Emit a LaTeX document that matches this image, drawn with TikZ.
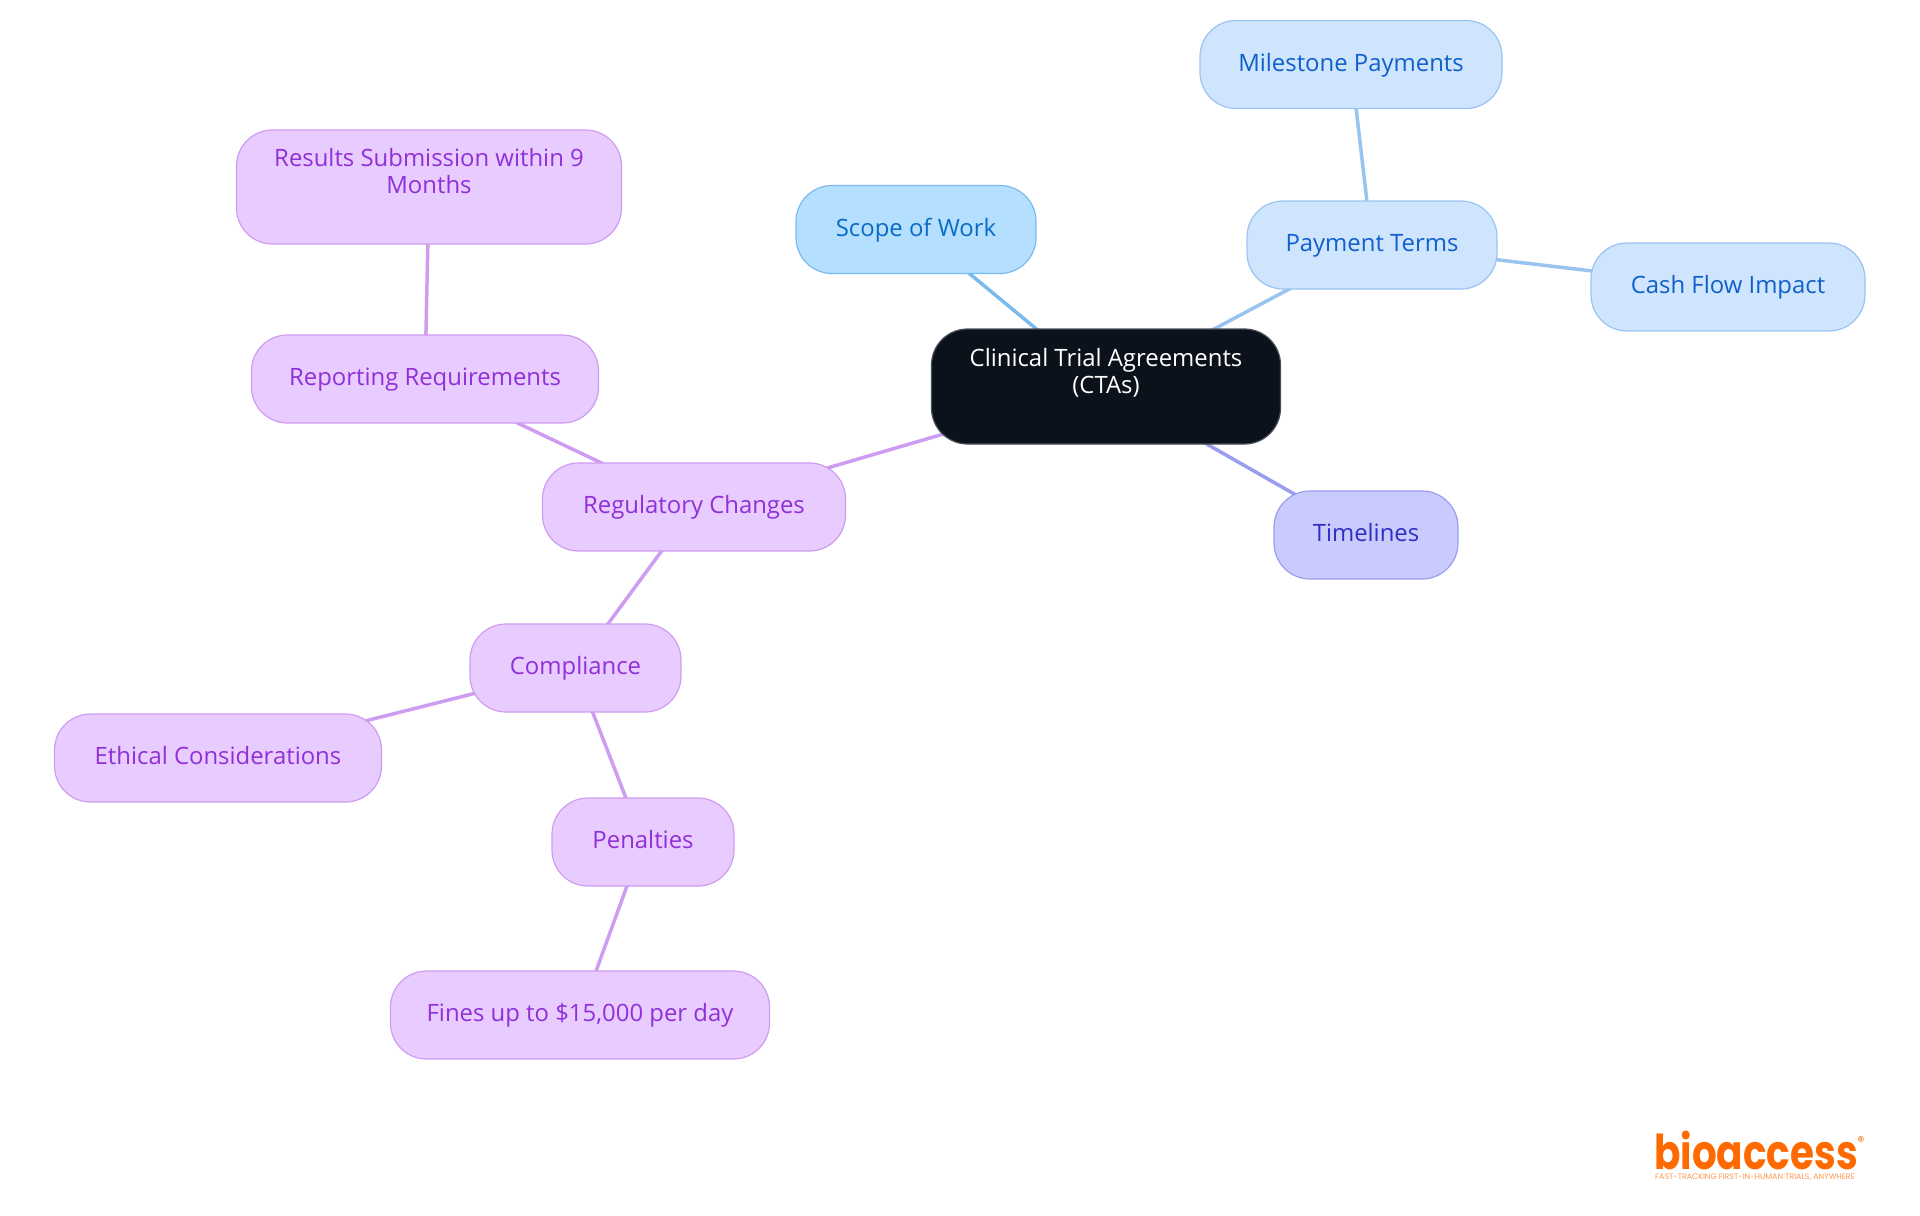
\documentclass[tikz,border=0pt]{standalone}
\usepackage{fontspec}
\setmainfont{Open Sans}
\newfontfamily\logofont{Poppins}
\usetikzlibrary{backgrounds}
\definecolor{ctafill}{HTML}{0B121B}
\definecolor{ctaline}{HTML}{4A5058}
\definecolor{skyfill}{HTML}{B5DFFF}
\definecolor{skyline}{HTML}{7ABBEF}
\definecolor{skytext}{HTML}{0A6CC4}
\definecolor{bluefill}{HTML}{CFE4FD}
\definecolor{blueline}{HTML}{9AC4F0}
\definecolor{bluetext}{HTML}{1060CC}
\definecolor{indfill}{HTML}{C9CBFD}
\definecolor{indline}{HTML}{9A9CF0}
\definecolor{indtext}{HTML}{2F2FC8}
\definecolor{purfill}{HTML}{E8CBFF}
\definecolor{purline}{HTML}{CE9CF0}
\definecolor{purtext}{HTML}{9030D8}
\definecolor{logoorange}{HTML}{FF6A00}
\tikzset{
  box/.style={rounded corners=18pt,line width=0.6pt,inner sep=0pt,minimum height=44pt,align=center,text height=9.2pt,text depth=2.6pt,font=\fontsize{11.95}{13.4}\selectfont},
  rootbox/.style={box,fill=ctafill,draw=ctaline,text=white,minimum height=57.5pt},
  skybox/.style={box,fill=skyfill,draw=skyline,text=skytext},
  bluebox/.style={box,fill=bluefill,draw=blueline,text=bluetext},
  indbox/.style={box,fill=indfill,draw=indline,text=indtext},
  purbox/.style={box,fill=purfill,draw=purline,text=purtext},
  wire/.style={line width=1.75pt}
}
\begin{document}
\begin{tikzpicture}[x=0.5pt,y=-0.5pt]
	\useasboundingbox (0,0) rectangle (1920,1215);
	% root
	\node [rootbox,minimum width=174.5pt] (cta) at (1106,386.5) {Clinical Trial Agreements\\(CTAs)};
	% first branches
	\node [skybox,minimum width=120pt] (scope) at (916,229.5) {Scope of Work};
	\node [bluebox,minimum width=125pt] (payment) at (1372,245) {Payment Terms};
	\node [indbox,minimum width=92pt] (timelines) at (1366,535) {Timelines};
	\node [purbox,minimum width=151.5pt] (regulatory) at (694,507) {Regulatory Changes};
	% payment leaves
	\node [bluebox,minimum width=151pt] (milestone) at (1351,64.5) {Milestone Payments};
	\node [bluebox,minimum width=137pt] (cashflow) at (1728,287) {Cash Flow Impact};
	% regulatory leaves
	\node [purbox,minimum width=173.5pt] (reporting) at (425,379) {Reporting Requirements};
	\node [purbox,minimum width=192.5pt,minimum height=57pt] (results) at (429,187) {Results Submission within 9\\Months};
	\node [purbox,minimum width=105.5pt] (compliance) at (575.5,668) {Compliance};
	\node [purbox,minimum width=163.5pt] (ethical) at (218,758) {Ethical Considerations};
	\node [purbox,minimum width=91pt] (penalties) at (643,842) {Penalties};
	\node [purbox,minimum width=189.5pt] (fines) at (580,1015) {Fines up to \$15,000 per day};
	% connectors
	\begin{scope}[on background layer]
		\draw [wire,skyline] (cta.center) -- (scope.center);
		\draw [wire,blueline] (cta.center) -- (payment.center);
		\draw [wire,blueline] (payment.center) -- (milestone.center);
		\draw [wire,blueline] (payment.center) -- (cashflow.center);
		\draw [wire,indline] (cta.center) -- (timelines.center);
		\draw [wire,purline] (cta.center) -- (regulatory.center);
		\draw [wire,purline] (regulatory.center) -- (reporting.center);
		\draw [wire,purline] (reporting.center) -- (results.center);
		\draw [wire,purline] (regulatory.center) -- (compliance.center);
		\draw [wire,purline] (compliance.center) -- (ethical.center);
		\draw [wire,purline] (compliance.center) -- (penalties.center);
		\draw [wire,purline] (penalties.center) -- (fines.center);
	\end{scope}
	% logo
	\node [text=logoorange,inner sep=0pt,font=\logofont\bfseries\fontsize{24}{24}\selectfont] (logo) at (1756,1150) {\scalebox{0.81}[1]{bioaccess}};
	\node [text=logoorange,inner sep=0pt,font=\logofont\fontsize{7}{7}\selectfont] (regmark) at (1861,1142) {®};
	\node [text=logoorange!70,inner sep=0pt,font=\logofont\fontsize{3.95}{4}\selectfont] (tagline) at (1755,1177) {FAST-TRACKING FIRST-IN-HUMAN TRIALS, ANYWHERE};
\end{tikzpicture}
\end{document}
